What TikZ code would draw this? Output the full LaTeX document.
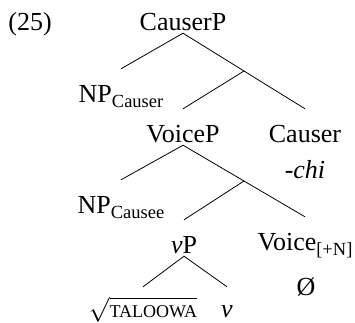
\documentclass[tikz,border=0pt]{standalone}
\usepackage{fontspec}
\setmainfont{Liberation Serif}
\usetikzlibrary{calc}
\newcommand{\sbs}[1]{\raisebox{-5pt}{\fontsize{18.5}{20}\selectfont #1}}
\newcommand{\smc}[1]{{\fontsize{18}{20}\selectfont #1}}

\begin{document}
\begin{tikzpicture}
	[x=1pt,y=-1pt,
	lab/.style={anchor=base,inner sep=0pt,text height=33pt,text depth=3pt,
		font=\fontsize{26}{30}\selectfont},
	br/.style={black,line width=0.8pt}]
	\useasboundingbox (0,0) rectangle (355,322);
	%---------------------etiquetas ------------
	\node[lab] (ex) at (30,30) {(25)};
	\node[lab] (CauserP) at (183,30) {CauserP};
	\node[lab] (NPcauser) at (121,102) {NP\sbs{Causer}};
	\node[lab] (VoiceP) at (183,142) {VoiceP};
	\node[lab] (Causer) at (305,142) {Causer};
	\node[lab] (chi) at (305,178) {\textit{-chi}};
	\node[lab] (NPcausee) at (121,213) {NP\sbs{Causee}};
	\node[lab] (vP) at (184,253) {\textit{v}P};
	\node[lab] (Voice) at (305,250) {Voice\sbs{[+N]}};
	\node[lab] (null) at (306,295) {Ø};
	\node[lab,text height=30pt] (root) at (143,317) {$\sqrt{\mbox{\smc{TALOOWA}}}$};
	\node[lab,text height=30pt] (v) at (227,317) {\textit{v}};
	%---------------------nudos vacios ------------
	\coordinate (bar1) at ($(CauserP.south)!0.5!(Causer.north)$);
	\coordinate (bar2) at ($(VoiceP.south)!0.5!(Voice.north)$);
	%---------------------ramas ------------
	\draw[br] (NPcauser.north) -- (CauserP.south) -- (bar1) -- (Causer.north);
	\draw[br] (bar1) -- (VoiceP.north);
	\draw[br] (NPcausee.north) -- (VoiceP.south) -- (bar2) -- (Voice.north);
	\draw[br] (bar2) -- (vP.north);
	\draw[br] (root.north) -- (vP.south) -- (v.north);
\end{tikzpicture}
\end{document}
